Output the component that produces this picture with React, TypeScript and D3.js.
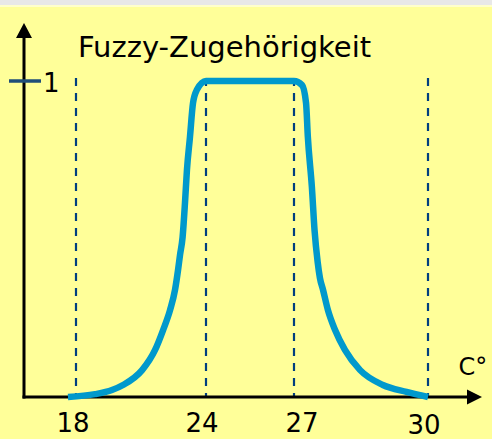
import React from "react";
import * as d3 from "d3";

// Temperature ticks (°C) shown on the x axis
const tempTicks = [18, 24, 27, 30];
// Membership tick on the y axis
const membershipTicks = [1];
// Curve: temperature (°C) and membership degree
const curveTemps = [
  17.63, 18.88, 19.66, 20.17, 21.05, 21.65, 22.02, 22.34, 22.57, 22.71, 22.8, 22.92, 23.03, 23.12, 23.26, 23.4, 23.58, 24,
  27, 27.18, 27.27, 27.31, 27.4, 27.46, 27.53, 27.58, 27.65, 27.76, 27.92, 28.14, 28.48, 28.99, 29.52, 30,
];
const curveMembership = [
  0, 0.009, 0.022, 0.038, 0.085, 0.149, 0.212, 0.275, 0.339, 0.402, 0.449, 0.506, 0.614, 0.718, 0.823, 0.93, 0.972, 1,
  1, 0.987, 0.93, 0.823, 0.665, 0.528, 0.427, 0.377, 0.339, 0.275, 0.212, 0.149, 0.085, 0.038, 0.016, 0,
];
const title = "Fuzzy-Zugehörigkeit";
const unitLabel = "C°";

// layout nudges for the tick labels (as in the reference drawing)
const labelDx = [-3, -4, 8, -4];
const labelDy = [0, 0, 0, 2];

export default function App() {
  const W = 492;
  const H = 439;
  const x = d3.scaleLinear().domain([18, 24, 27, 30]).range([76, 206, 294, 428]);
  const y = d3.scaleLinear().domain([0, 1]).range([397, 81]);
  const pts: [number, number][] = curveTemps.map((t, i) => [t, curveMembership[i]]);
  const line = d3
    .line<[number, number]>()
    .x((d) => x(d[0]))
    .y((d) => y(d[1]))
    .curve(d3.curveMonotoneX);

  const axisX = 24;
  const axisY = y(0);
  const font = "'DejaVu Sans', Verdana, sans-serif";

  return (
    <svg
      width={W}
      height={H}
      style={{ position: "absolute", left: 0, top: 0, display: "block" }}
      fontFamily={font}
    >
      <rect x={0} y={0} width={W} height={H} fill="#FFFF99" />
      <rect x={0} y={0} width={W} height={5} fill="#E8E8E8" />
      <rect x={0} y={5} width={W} height={2} fill="#FFFFCC" />

      {/* dashed guide lines */}
      {tempTicks.map((t) => (
        <line
          key={"g" + t}
          x1={x(t)}
          x2={x(t)}
          y1={y(1) - 3}
          y2={axisY}
          stroke="#003F7F"
          strokeWidth={2.2}
          strokeDasharray="8,7"
        />
      ))}

      {/* axes */}
      <line x1={axisX} x2={axisX} y1={axisY + 1.5} y2={36} stroke="#000" strokeWidth={3} />
      <path d={`M${axisX},23 L${axisX - 8},38 L${axisX + 8},38 Z`} fill="#000" />
      <line x1={axisX - 1.5} x2={468} y1={axisY} y2={axisY} stroke="#000" strokeWidth={3} />
      <path d={`M482,${axisY} L467,${axisY - 7.5} L467,${axisY + 7.5} Z`} fill="#000" />

      {/* y tick */}
      {membershipTicks.map((m) => (
        <g key={"m" + m}>
          <line x1={9} x2={41} y1={y(m)} y2={y(m)} stroke="#1F4E79" strokeWidth={3.5} />
          <text x={43} y={y(m) + 11} fontSize={26} fill="#000">
            {m}
          </text>
        </g>
      ))}

      {/* curve */}
      <path d={line(pts) || ""} fill="none" stroke="#0099CC" strokeWidth={6.5} />

      {/* tick labels */}
      {tempTicks.map((t, i) => (
        <text
          key={"l" + t}
          x={x(t) + labelDx[i]}
          y={432 + labelDy[i]}
          textAnchor="middle"
          fontSize={26}
          fill="#000"
        >
          {t}
        </text>
      ))}

      <text x={473} y={375} textAnchor="middle" fontSize={24} fill="#000">
        {unitLabel}
      </text>

      <text x={78} y={57} fontSize={29} fill="#000">
        {title}
      </text>
    </svg>
  );
}
